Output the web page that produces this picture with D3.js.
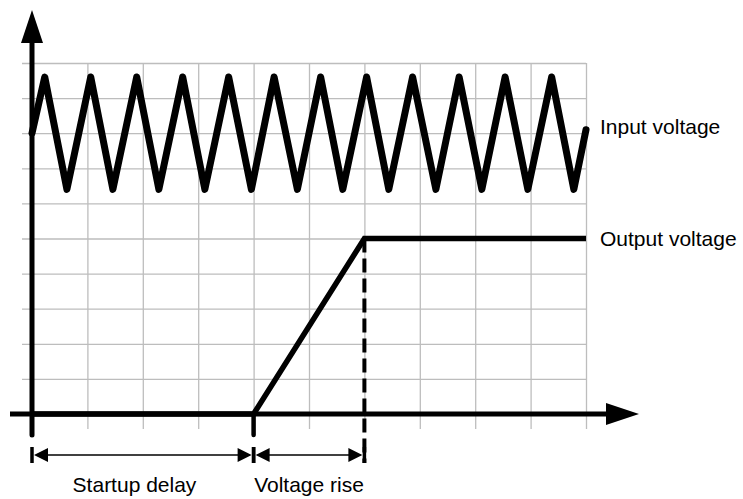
<!doctype html>
<html lang="en">
  <head>
    <meta charset="utf-8">
    <title>Input and output voltage at startup</title>
    <style>
      body { margin: 0; background: #fff; }
      text { font-family: "Liberation Sans", Arial, sans-serif; fill: #000; }
    </style>
  </head>
  <body>
    <div id="chart"></div>

    <script src="https://cdn.jsdelivr.net/npm/d3@7"></script>
    <script>
      // grid positions (time units / voltage units)
      const xTicks = [1, 2, 3, 4, 5, 6, 7, 8, 9, 10];
      const yTicks = [1, 2, 3, 4, 5, 6, 7, 8, 9, 10];

      // input voltage: triangle-ish wave, vertices
      const inputTime = [0, 0.23, 0.63, 1.06, 1.46, 1.89, 2.29, 2.72, 3.12, 3.55, 3.96, 4.37, 4.79,
                         5.21, 5.61, 6.04, 6.44, 6.87, 7.29, 7.71, 8.12, 8.54, 8.95, 9.38, 9.78, 10];
      const inputVolt = [8.0, 9.6, 6.4, 9.6, 6.4, 9.6, 6.4, 9.6, 6.4, 9.6, 6.4, 9.6, 6.4,
                         9.6, 6.4, 9.6, 6.4, 9.6, 6.4, 9.6, 6.4, 9.6, 6.4, 9.6, 6.4, 8.1];

      // output voltage: off, linear rise, steady
      const outputTime = [0, 4, 6, 10];
      const outputVolt = [0, 0, 5, 5];

      // phases marked under the time axis
      const phaseLabels = ["Startup delay", "Voltage rise"];
      const phaseStart = [0, 4];
      const phaseEnd = [4, 6];
      const phaseLabelAt = [1.85, 5.0];

      const width = 743, height = 499;

      const svg = d3.select("#chart").append("svg")
        .attr("width", width)
        .attr("height", height);

      const x = d3.scaleLinear().domain([0, 10]).range([32, 586]);
      const y = d3.scaleLinear().domain([0, 10]).range([414, 63]);

      const gridColor = "#bdbdbd";

      // horizontal grid lines, stick out 10px left of the y axis
      svg.append("g")
        .attr("transform", "translate(" + (x(0) - 10) + ",0)")
        .call(d3.axisLeft(y).tickValues(yTicks).tickSize(-(x(10) - x(0) + 10)).tickFormat(""))
        .call(g => g.select(".domain").remove())
        .selectAll("line").attr("stroke", gridColor).attr("stroke-width", 1.3);

      // vertical grid lines, stick out 15px below the x axis
      svg.append("g")
        .attr("transform", "translate(0," + (y(0) + 15) + ")")
        .call(d3.axisBottom(x).tickValues(xTicks).tickSize(-(y(0) - y(10) + 15)).tickFormat(""))
        .call(g => g.select(".domain").remove())
        .selectAll("line").attr("stroke", gridColor).attr("stroke-width", 1.3);

      // axes with arrow heads
      svg.append("line")
        .attr("x1", 10).attr("x2", 608)
        .attr("y1", y(0)).attr("y2", y(0))
        .attr("stroke", "#000").attr("stroke-width", 5);
      svg.append("path")
        .attr("d", "M606," + (y(0) - 11) + "L639," + y(0) + "L606," + (y(0) + 11) + "Z")
        .attr("fill", "#000");

      svg.append("line")
        .attr("x1", x(0)).attr("x2", x(0))
        .attr("y1", y(0) + 21).attr("y2", 41)
        .attr("stroke", "#000").attr("stroke-width", 5)
        .attr("stroke-linecap", "round");
      svg.append("path")
        .attr("d", "M" + (x(0) - 11) + ",43L" + x(0) + ",10L" + (x(0) + 11) + ",43Z")
        .attr("fill", "#000");

      const line = d3.line()
        .x(d => x(d[0]))
        .y(d => y(d[1]));

      // input voltage
      svg.append("path")
        .datum(inputTime.map((t, i) => [t, inputVolt[i]]))
        .attr("d", line)
        .attr("fill", "none")
        .attr("stroke", "#000")
        .attr("stroke-width", 7)
        .attr("stroke-linejoin", "round")
        .attr("stroke-linecap", "round");

      // output voltage
      svg.append("path")
        .datum(outputTime.map((t, i) => [t, outputVolt[i]]))
        .attr("d", line)
        .attr("fill", "none")
        .attr("stroke", "#000")
        .attr("stroke-width", 5.5)
        .attr("stroke-linejoin", "miter");

      // start of rise: solid marker below the axis
      svg.append("line")
        .attr("x1", x(outputTime[1])).attr("x2", x(outputTime[1]))
        .attr("y1", y(0)).attr("y2", y(0) + 21)
        .attr("stroke", "#000").attr("stroke-width", 4.5)
        .attr("stroke-linecap", "round");

      // end of rise: dashed marker down to the dimension line
      svg.append("line")
        .attr("x1", x(outputTime[2])).attr("x2", x(outputTime[2]))
        .attr("y1", y(outputVolt[2])).attr("y2", 463)
        .attr("stroke", "#000").attr("stroke-width", 4)
        .attr("stroke-dasharray", "14,6");

      // label on the right of each curve
      svg.append("text")
        .attr("x", 600).attr("y", y(inputVolt[inputVolt.length - 1]) + 4)
        .attr("font-size", 21)
        .text("Input voltage");
      svg.append("text")
        .attr("x", 600).attr("y", y(outputVolt[outputVolt.length - 1]) + 7)
        .attr("font-size", 21)
        .text("Output voltage");

      // dimension arrows for the phases
      const dimY = 455;
      const phases = svg.selectAll(".phase")
        .data(phaseLabels.map((label, i) => ({ label, s: phaseStart[i], e: phaseEnd[i], at: phaseLabelAt[i] })))
        .enter().append("g")
        .attr("class", "phase");

      phases.append("line")
        .attr("x1", d => x(d.s) + 4).attr("x2", d => x(d.e) - 4)
        .attr("y1", dimY).attr("y2", dimY)
        .attr("stroke", "#000").attr("stroke-width", 1.3);

      // arrow heads pointing at the end bars
      phases.append("path")
        .attr("d", d => "M" + (x(d.s) + 2) + "," + dimY + "L" + (x(d.s) + 16) + "," + (dimY - 7) +
                        "L" + (x(d.s) + 16) + "," + (dimY + 7) + "Z")
        .attr("fill", "#000");
      phases.append("path")
        .attr("d", d => "M" + (x(d.e) - 2) + "," + dimY + "L" + (x(d.e) - 16) + "," + (dimY - 7) +
                        "L" + (x(d.e) - 16) + "," + (dimY + 7) + "Z")
        .attr("fill", "#000");

      phases.append("line")
        .attr("x1", d => x(d.s)).attr("x2", d => x(d.s))
        .attr("y1", dimY - 8).attr("y2", dimY + 8)
        .attr("stroke", "#000").attr("stroke-width", 3.5);
      phases.append("line")
        .attr("x1", d => x(d.e)).attr("x2", d => x(d.e))
        .attr("y1", dimY - 8).attr("y2", dimY + 8)
        .attr("stroke", "#000").attr("stroke-width", 3.5);

      phases.append("text")
        .attr("x", d => x(d.at))
        .attr("y", 492)
        .attr("text-anchor", "middle")
        .attr("font-size", 21)
        .text(d => d.label);
    </script>
  </body>
</html>
